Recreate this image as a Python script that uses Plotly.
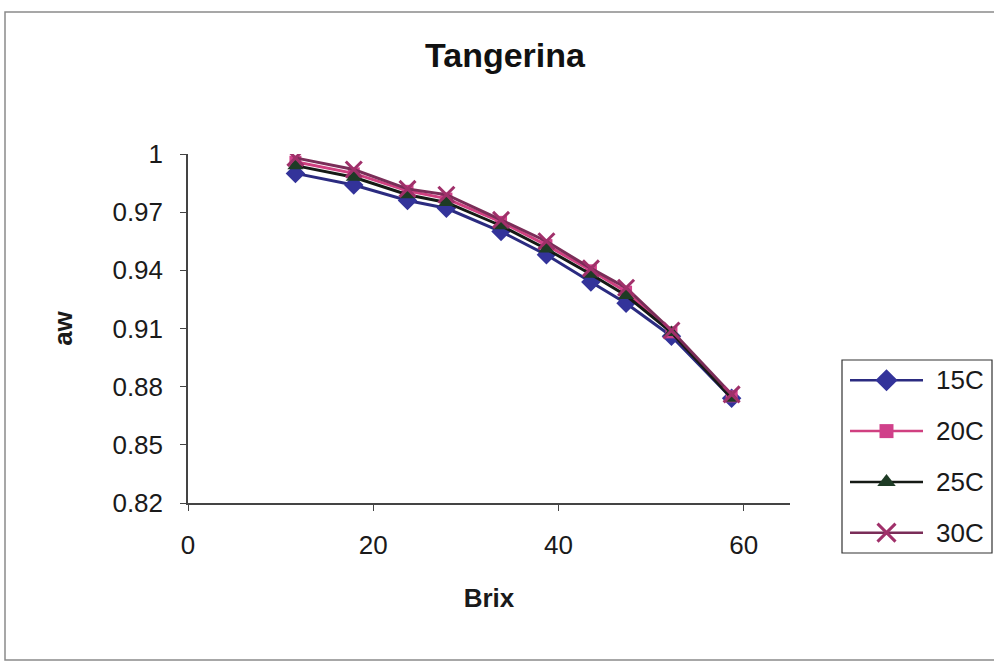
import plotly.graph_objects as go

# Brix readings (°Bx) and water activity at four temperatures
brix = [11.6, 17.9, 23.7, 27.9, 33.8, 38.7, 43.5, 47.3, 52.2, 58.7]
aw_15c = [0.990, 0.984, 0.976, 0.972, 0.960, 0.948, 0.934, 0.923, 0.906, 0.874]
aw_20c = [0.996, 0.990, 0.981, 0.977, 0.965, 0.953, 0.940, 0.929, 0.908, 0.875]
aw_25c = [0.994, 0.988, 0.979, 0.975, 0.963, 0.951, 0.938, 0.927, 0.908, 0.874]
aw_30c = [0.998, 0.992, 0.982, 0.979, 0.966, 0.955, 0.941, 0.931, 0.909, 0.876]

series_names = ["15C", "20C", "25C", "30C"]
y_ticks = [0.82, 0.85, 0.88, 0.91, 0.94, 0.97, 1.0]
y_tick_text = ["0.82", "0.85", "0.88", "0.91", "0.94", "0.97", "1"]
x_ticks = [0, 20, 40, 60]

W, H = 994, 662


def px_x(p):
    return p / W


def px_y(p):
    return 1 - p / H


styles = [
    dict(line="#2b2b80", marker="#33339a", symbol="diamond", size=15, lw=0),
    dict(line="#d04080", marker="#d0408a", symbol="square", size=12, lw=0),
    dict(line="#151a15", marker="#1e3b25", symbol="triangle-up", size=14, lw=0),
    dict(line="#7a2d58", marker="#a0306a", symbol="x-thin", size=16, lw=3),
]

fig = go.Figure()
for name, values, st in zip(series_names, [aw_15c, aw_20c, aw_25c, aw_30c], styles):
    fig.add_trace(go.Scatter(
        x=brix, y=values, name=name, mode="lines+markers", showlegend=False,
        line=dict(color=st["line"], width=3),
        marker=dict(symbol=st["symbol"], size=st["size"], color=st["marker"],
                    line=dict(color=st["marker"], width=st["lw"])),
    ))

# Legend box drawn on its own small axes so line samples can be long
legend_rows = list(range(len(series_names)))
for row, name, st in zip(legend_rows, series_names, styles):
    fig.add_trace(go.Scatter(
        x=[0, 1], y=[row, row], mode="lines", showlegend=False,
        xaxis="x2", yaxis="y2", hoverinfo="skip",
        line=dict(color=st["line"], width=2.5),
    ))
    fig.add_trace(go.Scatter(
        x=[0.5], y=[row], mode="markers", showlegend=False,
        xaxis="x2", yaxis="y2", hoverinfo="skip",
        marker=dict(symbol=st["symbol"], size=st["size"] + 2, color=st["marker"],
                    line=dict(color=st["marker"], width=st["lw"])),
    ))

font_family = "Liberation Sans, Arial, sans-serif"

legend_top, legend_bottom = 360, 553
row_pad = 0.4

annotations = [
    dict(text="<b>Tangerina</b>", x=px_x(505), y=px_y(55), xref="paper", yref="paper",
         xanchor="center", yanchor="middle", showarrow=False,
         font=dict(size=34, color="#111111")),
]
for row, name in zip(legend_rows, series_names):
    frac = (row + row_pad) / (len(series_names) - 1 + 2 * row_pad)
    ypix = legend_top + frac * (legend_bottom - legend_top)
    annotations.append(dict(
        text=name, x=px_x(934), y=px_y(ypix), xref="paper", yref="paper",
        xanchor="left", yanchor="middle", showarrow=False,
        font=dict(size=26, color="#1a1a1a"),
    ))

fig.update_layout(
    width=W, height=H,
    margin=dict(l=0, r=0, t=0, b=0),
    paper_bgcolor="white", plot_bgcolor="rgba(0,0,0,0)",
    font=dict(family=font_family, color="#1a1a1a", size=26),
    showlegend=False,
    annotations=annotations,
    shapes=[
        # outer chart frame
        dict(type="rect", xref="paper", yref="paper",
             x0=px_x(5), x1=1.01, y0=px_y(660), y1=px_y(12),
             line=dict(color="#8a8a8a", width=1.5)),
        # legend frame
        dict(type="rect", xref="paper", yref="paper",
             x0=px_x(842), x1=px_x(992), y0=px_y(legend_bottom), y1=px_y(legend_top),
             line=dict(color="#333333", width=1.2)),
    ],
    xaxis=dict(
        domain=[px_x(188), px_x(790)], anchor="y", automargin=False,
        range=[0, 65], tickvals=x_ticks, ticks="outside", ticklen=6,
        ticklabelstandoff=12,
        showline=True, linecolor="#444444", linewidth=1.5, showgrid=False, zeroline=False,
        tickcolor="#444444", tickfont=dict(size=26),
        title=dict(text="<b>Brix</b>", font=dict(size=26), standoff=30),
    ),
    yaxis=dict(
        domain=[px_y(503), px_y(154)], anchor="x", automargin=False,
        range=[0.82, 1.0], tickvals=y_ticks, ticktext=y_tick_text, ticks="outside", ticklen=6,
        ticklabelstandoff=12,
        showline=True, linecolor="#444444", linewidth=1.5, showgrid=False, zeroline=False,
        tickcolor="#444444", tickfont=dict(size=26),
        title=dict(text="<b>aw</b>", font=dict(size=26), standoff=32),
    ),
    xaxis2=dict(
        domain=[px_x(850), px_x(923)], anchor="y2", range=[0, 1],
        visible=False, fixedrange=True,
    ),
    yaxis2=dict(
        domain=[px_y(legend_bottom), px_y(legend_top)], anchor="x2",
        range=[len(series_names) - 1 + row_pad, -row_pad],
        visible=False, fixedrange=True,
    ),
)

fig.write_html("out.html")
